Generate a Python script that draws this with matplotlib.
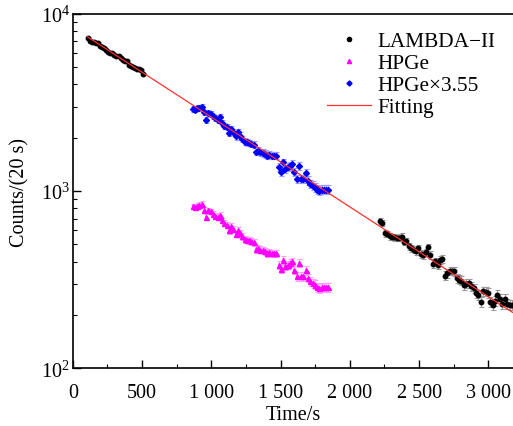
import numpy as np
import matplotlib
matplotlib.use("Agg")
import matplotlib.pyplot as plt
from matplotlib.ticker import FixedLocator, LogLocator, NullFormatter
from matplotlib.lines import Line2D

plt.rcParams['font.family'] = ['Liberation Serif', 'DejaVu Serif']
plt.rcParams['mathtext.fontset'] = 'custom'
plt.rcParams['mathtext.rm'] = 'Liberation Serif'
plt.rcParams['mathtext.it'] = 'Liberation Serif:italic'

# LAMBDA-II, first group
t_lam1 = [107, 122, 137, 152, 167, 181, 196, 211, 226, 241, 256, 271, 286, 300,
          315, 330, 345, 360, 375, 390, 405, 420, 435, 449, 464, 479, 494, 509]
c_lam1 = [7322, 7072, 6982, 6921, 6891, 6832, 6627, 6485, 6401, 6264, 6078, 6025,
          5999, 5896, 5821, 5770, 5647, 5526, 5454, 5407, 5156, 5068, 5002, 4981,
          4895, 4874, 4831, 4586]
# LAMBDA-II, second group
t_lam2 = [2218, 2235, 2253, 2270, 2287, 2305, 2322, 2339, 2356, 2374, 2391, 2408,
          2426, 2443, 2460, 2478, 2495, 2512, 2530, 2547, 2564, 2582, 2599, 2616,
          2633, 2651, 2668, 2685, 2703, 2720, 2737, 2755, 2772, 2789, 2806, 2824,
          2841, 2858, 2876, 2893, 2910, 2928, 2945, 2962, 2980, 2997, 3014, 3031,
          3049, 3066, 3083, 3101, 3118, 3135, 3153, 3170]
c_lam2 = [682, 661, 578, 573, 556, 551, 549, 544, 547, 554, 519, 524, 489, 476, 468,
          458, 476, 442, 436, 452, 482, 436, 387, 402, 385, 409, 414, 334, 344, 356,
          356, 352, 322, 317, 313, 295, 300, 303, 290, 283, 265, 260, 238, 273, 271,
          267, 238, 228, 241, 260, 246, 231, 246, 231, 229, 229]
# HPGe
t_hpge = [865, 881, 898, 914, 930, 947, 963, 979, 996, 1012, 1028, 1045, 1061, 1077,
          1094, 1110, 1126, 1143, 1159, 1175, 1192, 1208, 1224, 1241, 1257, 1273,
          1290, 1306, 1322, 1339, 1355, 1371, 1388, 1404, 1420, 1437, 1453, 1469,
          1486, 1502, 1518, 1535, 1551, 1567, 1584, 1600, 1616, 1633, 1649, 1665,
          1682, 1698, 1714, 1731, 1747, 1763, 1780, 1796, 1812, 1829, 1845]
c_scaled = [2910, 2885, 2935, 2961, 3000, 2787, 2533, 2763, 2728, 2646, 2578, 2533,
            2612, 2426, 2343, 2293, 2130, 2244, 2168, 2040, 2149, 2058, 1970, 1903,
            1887, 1871, 1847, 1830, 1672, 1693, 1657, 1643, 1622, 1587, 1601, 1587,
            1587, 1587, 1363, 1289, 1456, 1335, 1363, 1394, 1424, 1278, 1172, 1394,
            1172, 1172, 1267, 1147, 1098, 1074, 1051, 1020, 1007, 1020, 1020, 1020,
            1020]
scale = 3.55
c_hpge = [v / scale for v in c_scaled]

# Fit parameters
fit_A0 = 8414.0
fit_lambda = 1.1672e-3
fit_range = (107, 3190)

fig = plt.figure(figsize=(5.13, 4.27), dpi=100)
ax = fig.add_axes([0.1419, 0.1351, 0.8581, 0.8298])

fs = 14.5
lam_err = dict(ecolor='#9a9a9a', elinewidth=0.8, capsize=1.8, capthick=0.8)

ax.errorbar(t_lam1, c_lam1, yerr=np.sqrt(c_lam1), fmt='o', color='black', ms=3.2,
            zorder=3, **lam_err)
ax.errorbar(t_lam2, c_lam2, yerr=np.sqrt(c_lam2), fmt='o', color='black', ms=3.2,
            zorder=3, **lam_err)
h_err = np.sqrt(c_hpge)
ax.errorbar(t_hpge, c_hpge, yerr=h_err, fmt='^', color='#ff00ff', ms=3.6,
            ecolor='#ff9dff', elinewidth=0.8, capsize=1.8, capthick=0.8, zorder=3)
ax.errorbar(t_hpge, c_scaled, yerr=h_err * scale, fmt='D', color='#0000ff', ms=3.0,
            ecolor='#9a9aff', elinewidth=0.8, capsize=1.8, capthick=0.8, zorder=3)
tf = np.linspace(fit_range[0], fit_range[1], 300)
ax.plot(tf, fit_A0 * np.exp(-fit_lambda * tf), color='#ff3030', lw=0.9, zorder=4)

ax.set_yscale('log')
ax.set_ylim(100, 10000)
ax.set_xlim(0, 3178)
ax.set_yticks([100, 1000, 10000])
ax.set_yticklabels([r'$\mathregular{10^{2}}$', r'$\mathregular{10^{3}}$',
                    r'$\mathregular{10^{4}}$'], fontsize=fs)
ax.yaxis.set_minor_locator(LogLocator(base=10, subs=np.arange(2, 10)))
ax.yaxis.set_minor_formatter(NullFormatter())
xt = [0, 500, 1000, 1500, 2000, 2500, 3000]
ax.set_xticks(xt)
ax.set_xticklabels(['0', '500', '1 000', '1 500', '2 000', '2 500', '3 000'],
                   fontsize=fs)
ax.xaxis.set_minor_locator(FixedLocator([250, 750, 1250, 1750, 2250, 2750]))
ax.tick_params(which='major', direction='in', length=6, width=1)
ax.tick_params(which='minor', direction='in', length=3, width=0.8)
ax.tick_params(axis='x', which='major', pad=10.5)
ax.tick_params(axis='y', which='major', pad=2)
for s in ['left', 'bottom', 'top']:
    ax.spines[s].set_linewidth(1.2)
ax.spines['right'].set_visible(False)

ax.set_xlabel('Time/s', fontsize=fs, labelpad=2)
ax.set_ylabel('Counts/(20 s)', fontsize=fs, labelpad=8)

handles = [
    Line2D([], [], ls='none', marker='o', color='black', ms=3),
    Line2D([], [], ls='none', marker='^', color='#ff00ff', ms=3),
    Line2D([], [], ls='none', marker='D', color='#0000ff', ms=2.6),
    Line2D([], [], color='#ff3030', lw=0.9),
]
labels = ['LAMBDA\u2212II', 'HPGe', 'HPGe\u00d73.55', 'Fitting']
leg = ax.legend(handles, labels, loc='upper left',
                bbox_to_anchor=(0.5625, 0.969), bbox_transform=ax.transAxes,
                frameon=False, fontsize=15.3, handlelength=2.1, handletextpad=0.3,
                labelspacing=0.1, borderaxespad=0.0, borderpad=0.3)

fig.savefig('out.png', dpi=100)
